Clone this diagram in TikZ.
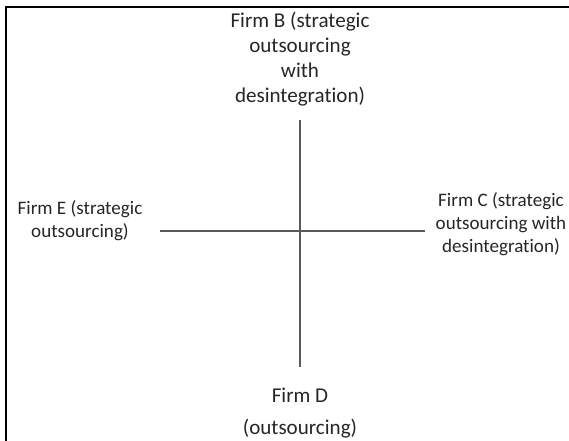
\documentclass[tikz,border=0pt]{standalone}
\usepackage{fontspec}
\setmainfont{Carlito}[Ligatures={NoCommon}]
\begin{document}
\begin{tikzpicture}[x=0.75pt,y=-0.75pt,
  label text/.style={font=\fontsize{15.8}{18.8}\selectfont, align=center, text=black!85, inner sep=0pt},
  side text/.style={label text, font=\fontsize{14.3}{17.1}\selectfont},
  axis/.style={draw=black!65, line width=1pt},
  frame/.style={draw=black, line width=1.2pt}]
\useasboundingbox (0,0) rectangle (569,441);
% frame edges along the top and left
\draw[frame] (6,441) -- (6,7) -- (569,7);
% axis end points
\coordinate (top) at (300,120);
\coordinate (bottom) at (300,367);
\coordinate (left) at (160,231);
\coordinate (right) at (425,231);
\draw[axis] (top) -- (bottom);
\draw[axis] (left) -- (right);
% quadrant labels
\node[label text] (firmB) at (300,59) {Firm B (strategic\\outsourcing\\with\\desintegration)};
\node[side text] (firmE) at (80,221) {Firm E (strategic\\outsourcing)};
\node[side text] (firmC) at (501,224) {Firm C (strategic\\outsourcing with\\desintegration)};
\node[label text, font=\fontsize{15.8}{24.5}\selectfont] (firmD) at (300,413) {Firm D\\(outsourcing)};
\end{tikzpicture}
\end{document}
